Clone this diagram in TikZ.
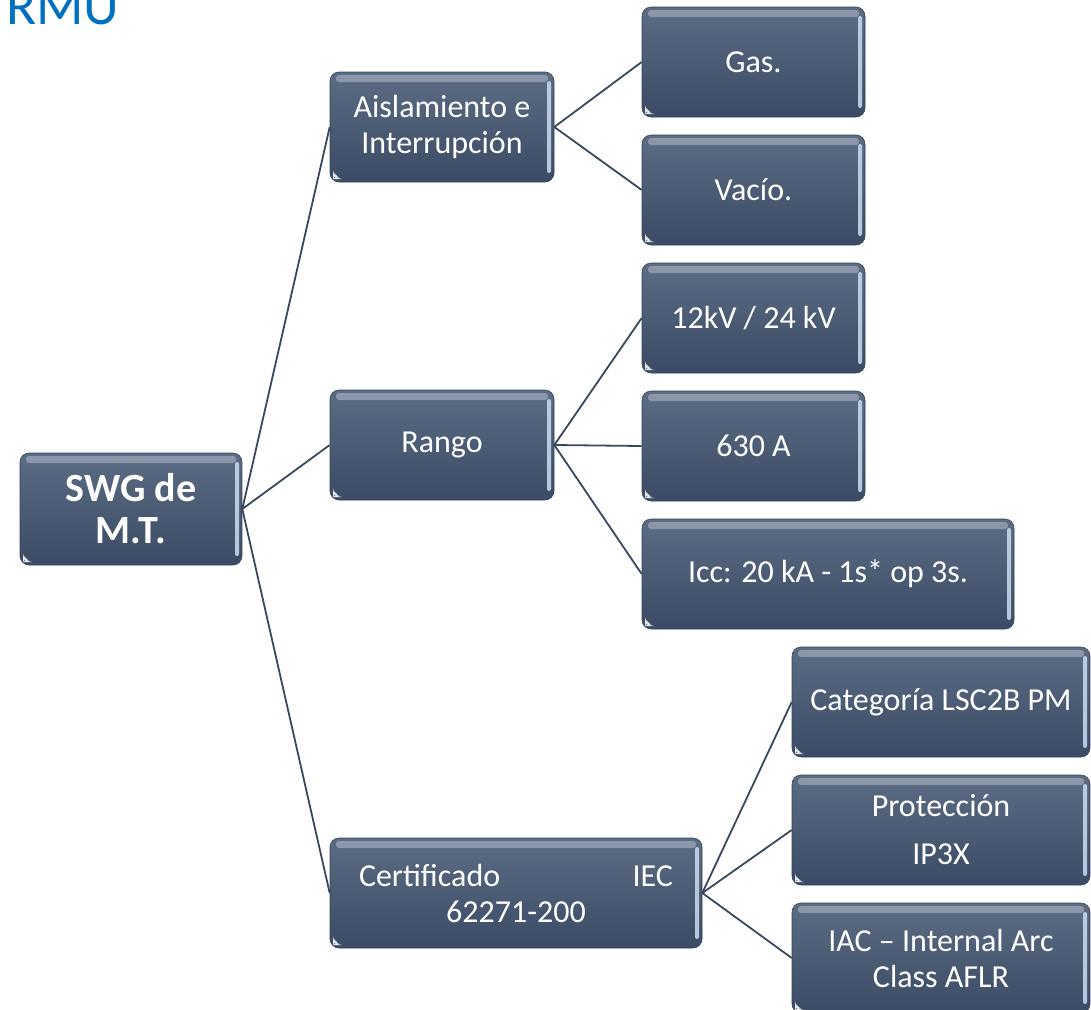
\documentclass[tikz,border=0pt]{standalone}
\usepackage{fontspec}
\setmainfont{Carlito}
\usetikzlibrary{positioning,calc}
\definecolor{boxtop}{HTML}{5C6C85}
\definecolor{boxbot}{HTML}{3C4B65}
\definecolor{boxedge}{HTML}{34425A}
\definecolor{glow}{HTML}{C9DCEF}
\definecolor{linkcol}{HTML}{3A4760}
\definecolor{titleblue}{HTML}{0070C0}

\begin{document}
\begin{tikzpicture}[
  x=1pt, y=-1pt,
  tile/.style={rounded corners=9pt, draw=boxedge, line width=0.6pt,
               top color=boxtop, bottom color=boxbot, text=white, align=center,
               inner sep=0pt, minimum height=110pt, minimum width=223pt,
               font=\fontsize{32}{36}\selectfont,
               path picture={
                 % glossy band along the top
                 \fill[white, opacity=0.3, rounded corners=3pt]
                   ([xshift=6pt,yshift=-3pt]path picture bounding box.north west) rectangle
                   ([xshift=-6pt,yshift=-10pt]path picture bounding box.north east);
                 % light rim on the right side
                 \fill[glow, opacity=0.85, rounded corners=2pt]
                   ([xshift=-7pt,yshift=-9pt]path picture bounding box.north east) rectangle
                   ([xshift=-3pt,yshift=9pt]path picture bounding box.south east);
                 % corner mark
                 \fill[white, opacity=0.9]
                   ([xshift=3pt,yshift=3pt]path picture bounding box.south west)
                   -- ++(7pt,0pt) -- ++(-7pt,7pt) -- cycle;
               }},
  wide/.style={tile, minimum width=372pt},
  side/.style={tile, minimum width=298pt},
  rootbox/.style={tile, minimum width=222pt, minimum height=112pt,
                  font=\bfseries\fontsize{40}{42}\selectfont},
  link/.style={draw=linkcol, line width=1.8pt},
]
\useasboundingbox (0,0) rectangle (1091,1009);

% ---- Title ----
\node[font=\fontsize{55.5}{60}\selectfont, text=titleblue, anchor=base west, inner sep=0pt]
      (title) at (6,24) {RMU};

% ---- Root ----
\node[rootbox] (swg) at (131,509) {SWG de\\M.T.};

% ---- Level 1 ----
\node[tile, minimum width=224pt] (aisl)  at (442,127) {Aislamiento e\\Interrupción};
\node[tile, minimum width=224pt] (rango) at (442,445) {Rango};
\node[wide]                      (cert)  at (516,893) {\makebox[314pt]{Certificado\hfill IEC}\\62271-200};

% ---- Level 2 : insulation ----
\node[tile] (gas)   at (753.5,62)  {Gas.};
\node[tile] (vacio) at (753.5,190) {Vacío.};
% ---- Level 2 : ratings ----
\node[tile] (kv)    at (753.5,318) {12kV / 24 kV};
\node[tile] (amp)   at (753.5,446) {630 A};
\node[wide] (icc)   at (828,574)   {Icc: 20 kA - 1s* op 3s.};
% ---- Level 2 : certificate ----
\node[side] (cat)   at (941,702)   {Categoría LSC2B PM};
\node[side] (prot)  at (941,830)   {Protección\\[12pt]IP3X};
\node[side] (iac)   at (941,958)   {IAC – Internal Arc\\Class AFLR};

% ---- Links ----
\draw[link] (swg.east) -- (aisl.west);
\draw[link] (swg.east) -- (rango.west);
\draw[link] (swg.east) -- (cert.west);
\draw[link] (aisl.east) -- (gas.west);
\draw[link] (aisl.east) -- (vacio.west);
\draw[link] (rango.east) -- (kv.west);
\draw[link] (rango.east) -- (amp.west);
\draw[link] (rango.east) -- (icc.west);
\draw[link] (cert.east) -- (cat.west);
\draw[link] (cert.east) -- (prot.west);
\draw[link] (cert.east) -- (iac.west);
\end{tikzpicture}
\end{document}
